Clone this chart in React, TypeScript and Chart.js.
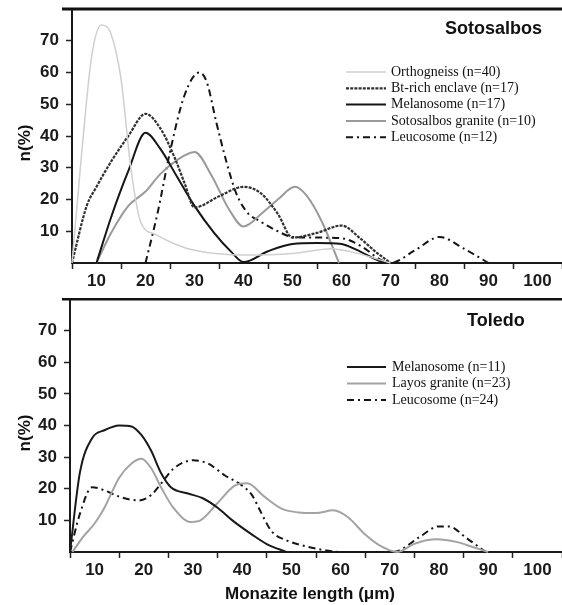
import React, { useEffect, useRef } from 'react';
import { Chart, registerables } from 'chart.js';

Chart.register(...registerables);

// ---------- Sotosalbos (top panel) ----------
const orthoX = [5, 7, 9, 11, 13, 15, 17, 19, 22, 26, 30, 40, 50, 58, 62, 70];
const orthoY = [0, 35, 65, 75, 72, 58, 30, 13, 9, 6, 4, 2.5, 3, 4.5, 3.5, 0];

const btX = [5, 8, 10, 13, 16.5, 20, 23, 26, 28, 30, 35, 40, 43.5, 47, 50, 55, 60, 64, 67, 70];
const btY = [0, 18, 24, 32, 40, 47, 42.5, 33, 25, 17.5, 21, 24, 22, 15.5, 8, 9.5, 11.8, 7.5, 3.5, 0];

const melaSX = [10, 13, 16.5, 20, 23, 26.5, 30, 34, 37.5, 40, 45, 50, 55, 60, 63, 68, 70];
const melaSY = [0, 14.5, 29, 41, 36, 27, 18, 9.5, 3.5, 0.3, 3.7, 6, 6.3, 6, 4.2, 0.5, 0];

const sotoX = [10, 13, 16.5, 20, 23, 26.5, 30, 33.5, 37, 40, 44, 47, 50.5, 53, 56, 59.5];
const sotoY = [0, 9.5, 18, 22.5, 28, 32.5, 35, 27.5, 17, 11.5, 16, 20, 24, 21, 13, 0];

const leucoSX = [20, 22.5, 25, 28, 31, 32.5, 34.5, 36.5, 38.5, 41, 43, 47, 50, 55, 60, 64, 68, 70, 75, 80, 85, 90];
const leucoSY = [0, 16, 35, 53, 60, 57, 44, 32, 22, 15.5, 13.5, 10, 8.2, 8, 7.8, 5.3, 1, 0, 4, 8.2, 4.5, 0];

// ---------- Toledo (bottom panel) ----------
const melaTX = [5, 7, 9.5, 12, 15, 17.5, 19.5, 21.5, 23.5, 25.5, 29, 32, 35, 38, 42, 45, 49];
const melaTY = [0, 25, 36, 38.5, 40, 39.7, 37, 32, 25, 20.5, 18.5, 17, 14, 10, 5.5, 2.5, 0];

const layosX = [5.5, 7.5, 10, 12, 15, 17.5, 19.5, 21.5, 23.5, 26, 29.5, 31.5, 35, 38.5, 41, 44.5, 48, 51.5, 55, 58.5, 61.5, 65, 68, 71.5, 75, 79.5, 83.5, 87, 90];
const layosY = [0, 4.5, 9, 14, 23.5, 28, 29.5, 26.5, 20.5, 14, 9.5, 10, 15.5, 21, 21.7, 17.5, 13.7, 12.5, 12.3, 13.2, 11, 5.5, 2, 0, 2.6, 4, 3.2, 1.5, 0];

const leucoTX = [5, 7, 9.5, 12, 15, 19, 21.5, 23.5, 26, 30, 33, 36.5, 40, 42, 43.5, 46, 49, 53.5, 57, 60, 70, 72, 76, 80, 82, 85.5, 89.5];
const leucoTY = [0, 12, 20.5, 19.5, 17.5, 16.3, 18, 21.6, 26.3, 29, 28, 24.2, 21, 18, 13.5, 6.5, 3.7, 1.6, 0.5, 0, 0, 0.5, 4.7, 8.1, 8.1, 4.5, 0];

const xTickLabels = [10, 20, 30, 40, 50, 60, 70, 80, 90, 100];
const yTickLabels = [10, 20, 30, 40, 50, 60, 70];

const sansFont = '"Liberation Sans", Arial, Helvetica, sans-serif';
const serifFont = '"Liberation Serif", "Times New Roman", serif';

function pts(xs: number[], ys: number[]) {
  return xs.map((x, i) => ({ x, y: ys[i] }));
}

type SeriesDef = {
  label: string;
  xs: number[];
  ys: number[];
  color: string;
  width: number;
  dash: number[];
};

const DASHDOT = [7, 4, 2, 4];

const topSeries: SeriesDef[] = [
  { label: 'Orthogneiss (n=40)', xs: orthoX, ys: orthoY, color: '#cfcfcf', width: 1.5, dash: [] },
  { label: 'Bt-rich enclave (n=17)', xs: btX, ys: btY, color: '#303030', width: 2.2, dash: [3, 1.2] },
  { label: 'Melanosome (n=17)', xs: melaSX, ys: melaSY, color: '#151515', width: 2, dash: [] },
  { label: 'Sotosalbos granite (n=10)', xs: sotoX, ys: sotoY, color: '#9a9a9a', width: 2, dash: [] },
  { label: 'Leucosome (n=12)', xs: leucoSX, ys: leucoSY, color: '#151515', width: 2, dash: DASHDOT },
];

const bottomSeries: SeriesDef[] = [
  { label: 'Melanosome (n=11)', xs: melaTX, ys: melaTY, color: '#1a1a1a', width: 2, dash: [] },
  { label: 'Layos granite (n=23)', xs: layosX, ys: layosY, color: '#a3a3a3', width: 2, dash: [] },
  { label: 'Leucosome (n=24)', xs: leucoTX, ys: leucoTY, color: '#151515', width: 2, dash: DASHDOT },
];

type PanelProps = {
  width: number;
  height: number;
  axisWidth: number;
  xAxisHeight: number;
  padTop: number;
  series: SeriesDef[];
  title: string;
  titleX: number;
  titleY: number;
  legendX1: number;
  legendX2: number;
  legendTextX: number;
  legendY0: number;
  legendStep: number;
  yTitleX: number;
  yTitleY: number;
  xTitle?: string;
  xTitleX?: number;
  xTitleY?: number;
};

function Panel(p: PanelProps) {
  const ref = useRef<HTMLCanvasElement | null>(null);

  useEffect(() => {
    if (!ref.current) return;
    const decor = {
      id: 'decor',
      afterDraw(chart: any) {
        const ctx = chart.ctx as CanvasRenderingContext2D;
        const area = chart.chartArea;
        ctx.save();
        // top frame line
        ctx.strokeStyle = '#111';
        ctx.lineWidth = 3;
        ctx.setLineDash([]);
        ctx.beginPath();
        ctx.moveTo(62, area.top);
        ctx.lineTo(chart.width, area.top);
        ctx.stroke();
        // panel title
        ctx.fillStyle = '#111';
        ctx.font = `bold 18px ${sansFont}`;
        ctx.textAlign = 'left';
        ctx.textBaseline = 'middle';
        ctx.fillText(p.title, p.titleX, p.titleY);
        // legend
        p.series.forEach((s, i) => {
          const y = p.legendY0 + i * p.legendStep;
          ctx.strokeStyle = s.color;
          ctx.lineWidth = s.width;
          ctx.setLineDash(s.dash);
          ctx.beginPath();
          ctx.moveTo(p.legendX1, y);
          ctx.lineTo(p.legendX2, y);
          ctx.stroke();
          ctx.setLineDash([]);
          ctx.fillStyle = '#111';
          ctx.font = `14px ${serifFont}`;
          ctx.textAlign = 'left';
          ctx.textBaseline = 'middle';
          ctx.fillText(s.label, p.legendTextX, y);
        });
        // y title
        ctx.save();
        ctx.translate(p.yTitleX, p.yTitleY);
        ctx.rotate(-Math.PI / 2);
        ctx.font = `bold 17px ${sansFont}`;
        ctx.textAlign = 'center';
        ctx.textBaseline = 'middle';
        ctx.fillStyle = '#111';
        ctx.fillText('n(%)', 0, 0);
        ctx.restore();
        // x title
        if (p.xTitle) {
          ctx.font = `bold 17px ${sansFont}`;
          ctx.textAlign = 'center';
          ctx.textBaseline = 'middle';
          ctx.fillStyle = '#111';
          ctx.fillText(p.xTitle, p.xTitleX as number, p.xTitleY as number);
        }
        ctx.restore();
      },
    };

    const chart = new Chart(ref.current, {
      type: 'line',
      data: {
        datasets: p.series.map((s) => ({
          label: s.label,
          data: pts(s.xs, s.ys),
          borderColor: s.color,
          borderWidth: s.width,
          borderDash: s.dash,
          pointRadius: 0,
          fill: false,
          cubicInterpolationMode: 'monotone' as const,
          clip: false as any,
        })),
      },
      options: {
        responsive: false,
        animation: false,
        devicePixelRatio: 1,
        layout: { padding: { top: p.padTop, left: 0, right: 0, bottom: 0 } },
        plugins: {
          legend: { display: false },
          tooltip: { enabled: false },
          title: { display: false },
        },
        scales: {
          x: {
            type: 'linear',
            min: 5,
            max: 105,
            afterFit: (scale: any) => {
              scale.height = p.xAxisHeight;
              scale.paddingLeft = 0;
              scale.paddingRight = 0;
            },
            ticks: {
              stepSize: 5,
              autoSkip: false,
              maxRotation: 0,
              padding: 2,
              color: '#1a1a1a',
              font: { family: sansFont, size: 17, weight: 'bold' },
              callback: (v: any) => (xTickLabels.includes(Number(v)) ? String(v) : ''),
            },
            grid: {
              drawOnChartArea: false,
              drawTicks: true,
              tickLength: 6,
              tickWidth: 1.5,
              tickColor: (ctx: any) =>
                ctx.tick && Number(ctx.tick.value) % 10 === 5 ? '#222' : 'rgba(0,0,0,0)',
            },
            border: { display: true, color: '#1a1a1a', width: 2 },
          },
          y: {
            type: 'linear',
            min: 0,
            max: 80,
            afterFit: (scale: any) => {
              scale.width = p.axisWidth;
              scale.paddingTop = 0;
              scale.paddingBottom = 0;
            },
            ticks: {
              stepSize: 10,
              autoSkip: false,
              padding: 7,
              color: '#1a1a1a',
              font: { family: sansFont, size: 17, weight: 'bold' },
              callback: (v: any) => (yTickLabels.includes(Number(v)) ? String(v) : ''),
            },
            grid: {
              drawOnChartArea: false,
              drawTicks: true,
              tickLength: 6,
              tickWidth: 1.5,
              tickColor: (ctx: any) =>
                ctx.tick && yTickLabels.includes(Number(ctx.tick.value)) ? '#222' : 'rgba(0,0,0,0)',
            },
            border: { display: true, color: '#1a1a1a', width: 2 },
          },
        },
      },
      plugins: [decor],
    } as any);

    return () => chart.destroy();
  }, []);

  return (
    <canvas
      ref={ref}
      width={p.width}
      height={p.height}
      style={{ display: 'block', width: p.width, height: p.height }}
    />
  );
}

export default function App() {
  return (
    <div style={{ position: 'absolute', left: 0, top: 0, width: 562, height: 605, background: '#fff' }}>
      <Panel
        width={562}
        height={298}
        axisWidth={72}
        xAxisHeight={35}
        padTop={9}
        series={topSeries}
        title="Sotosalbos"
        titleX={445}
        titleY={29}
        legendX1={346}
        legendX2={386}
        legendTextX={391}
        legendY0={72}
        legendStep={16.3}
        yTitleX={25}
        yTitleY={143}
      />
      <Panel
        width={562}
        height={307}
        axisWidth={70}
        xAxisHeight={53}
        padTop={1}
        series={bottomSeries}
        title="Toledo"
        titleX={467}
        titleY={23}
        legendX1={347}
        legendX2={386}
        legendTextX={392}
        legendY0={69}
        legendStep={16.5}
        yTitleX={25}
        yTitleY={135}
        xTitle="Monazite length (μm)"
        xTitleX={310}
        xTitleY={296}
      />
    </div>
  );
}
